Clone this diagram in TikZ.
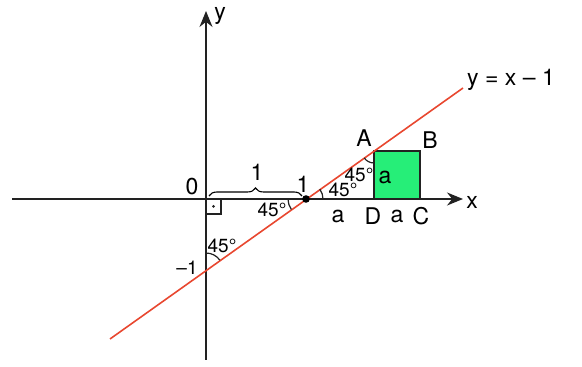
\documentclass[tikz,border=0pt]{standalone}
\usepackage{fontspec}
\setmainfont{TeX Gyre Heros}
\usetikzlibrary{arrows.meta,decorations.pathreplacing}
\definecolor{redline}{HTML}{E8472F}
\definecolor{sqgreen}{HTML}{26EE78}
\definecolor{axisgray}{HTML}{222222}
\begin{document}
\begin{tikzpicture}[x=1pt,y=1pt,
  axis/.style={line width=1.7pt,color=axisgray,-{Stealth[length=16pt,width=13pt]}},
  lbl/.style={inner sep=0pt,font=\fontsize{23}{25}\selectfont},
  sml/.style={inner sep=0pt,font=\fontsize{19}{21}\selectfont},
  arcmark/.style={line width=1.2pt,color=axisgray}]
\useasboundingbox (0,0) rectangle (582,367);
% points
\coordinate (O) at (206,168);
\coordinate (P) at (306,168);
\coordinate (M) at (206,97);
\coordinate (A) at (374,216);
\coordinate (B) at (420,216);
\coordinate (C) at (420,168);
\coordinate (D) at (374,168);
\coordinate (L1) at (110,28);
\coordinate (L2) at (463,279);
\coordinate (xs) at (12,168);
\coordinate (xe) at (463,168);
\coordinate (ys) at (206,7);
\coordinate (ye) at (206,356);
% square
\draw[fill=sqgreen,draw=axisgray,line width=1.4pt] (D) rectangle (B);
% axes
\draw[axis] (xs) -- (xe);
\draw[axis] (ys) -- (ye);
% line
\draw[redline,line width=1.6pt] (L1) -- (L2);
% right angle
\draw[line width=1.2pt,color=axisgray] (206,153) -- (221,153) -- (221,168);
\fill[axisgray] (213.5,160.5) circle (1.5pt);
% point
\fill[black] (P) circle (3.8pt);
% brace
\draw[line width=1.1pt,decorate,decoration={brace,amplitude=8pt}] (209,171) -- (302,171);
% angle arcs
\draw[arcmark] ([shift={(0:17)}]P) arc[start angle=0,end angle=35.4,radius=17];
\draw[arcmark] ([shift={(180:18)}]P) arc[start angle=180,end angle=215.4,radius=18];
\draw[arcmark] ([shift={(215.4:12)}]A) arc[start angle=215.4,end angle=270,radius=12];
\draw[arcmark] ([shift={(35.4:17)}]M) arc[start angle=35.4,end angle=90,radius=17];
% labels
\node[lbl,anchor=base] (ylab) at (220,347) {y};
\node[lbl] (xlab) at (472,165) {x};
\node[lbl] (eq) at (511,287) {y = x – 1};
\node[lbl] (zero) at (192,180) {0};
\node[lbl] (one) at (257,195) {1};
\node[lbl] (oneP) at (303,183) {1};
\node[sml] (mone) at (187,99) {–1};
\node[sml] (a1) at (272,157) {45°};
\node[sml] (a2) at (343,177) {45°};
\node[sml] (a3) at (359,192) {45°};
\node[sml] (a4) at (222,121) {45°};
\node[lbl] (la) at (338,151) {a};
\node[lbl] (lD) at (373,151) {D};
\node[lbl] (la2) at (397,151) {a};
\node[lbl] (lC) at (421,151) {C};
\node[lbl] (lsq) at (385,190) {a};
\node[lbl] (lA) at (364,229) {A};
\node[lbl] (lB) at (430,227) {B};
\end{tikzpicture}
\end{document}
